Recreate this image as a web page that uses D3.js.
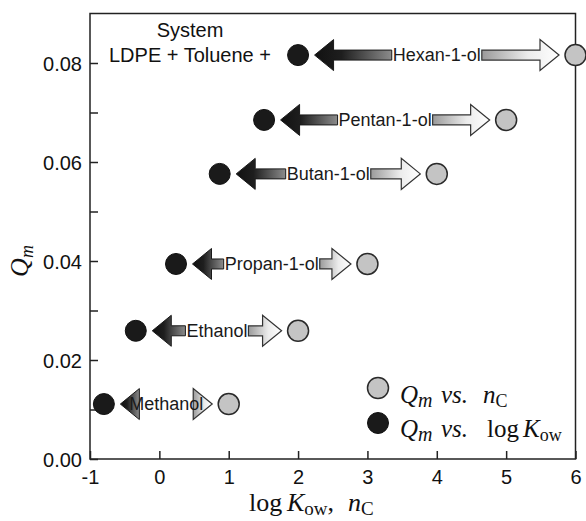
<!DOCTYPE html>
<html><head><meta charset="utf-8">
<script src="https://cdn.jsdelivr.net/npm/d3@7"></script>
<style>body{margin:0;background:#fff}</style>
</head><body><svg id="c" width="586" height="521"></svg>
<script>
const alcohols = ["Methanol","Ethanol","Propan-1-ol","Butan-1-ol","Pentan-1-ol","Hexan-1-ol"];
const nC = [1,2,3,4,5,6];
const logKow = [-0.8,-0.34,0.24,0.87,1.51,2.0];
const Qm = [0.0111,0.0259,0.0394,0.0576,0.0685,0.0816];
const xTicks = [-1,0,1,2,3,4,5,6];
const yTicks = [0,0.01,0.02,0.03,0.04,0.05,0.06,0.07,0.08];
const yLabeled = [0,0.02,0.04,0.06,0.08];
const titleLines = ["System","LDPE + Toluene +"];

const svg = d3.select("#c");
const L=90,R=575.5,T=13.5,B=459;
const x = d3.scaleLinear().domain([-1,6]).range([L,R]);
const y = d3.scaleLinear().domain([0,0.09]).range([B,T]);
const SANS = "'Liberation Sans', Arial, Helvetica, sans-serif";
const SERIF = "'Liberation Serif', 'Times New Roman', serif";
const ink = "#222";

const defs = svg.append("defs");
const gl = defs.append("linearGradient").attr("id","gL").attr("x1",0).attr("x2",1).attr("y1",0).attr("y2",0);
gl.append("stop").attr("offset",0).attr("stop-color","#111");
gl.append("stop").attr("offset",0.35).attr("stop-color","#1e1e1e");
gl.append("stop").attr("offset",1).attr("stop-color","#8c8c8c");
const gr = defs.append("linearGradient").attr("id","gR").attr("x1",0).attr("x2",1).attr("y1",0).attr("y2",0);
gr.append("stop").attr("offset",0).attr("stop-color","#9a9a9a");
gr.append("stop").attr("offset",0.6).attr("stop-color","#ececec");
gr.append("stop").attr("offset",1).attr("stop-color","#ffffff");

// axes
const yAxis = d3.axisLeft(y).tickValues(yTicks).tickSize(-8).tickPadding(8)
  .tickFormat(d => yLabeled.some(v=>Math.abs(v-d)<1e-9) ? d.toFixed(2) : "");
const gy = svg.append("g").attr("transform",`translate(${L},0)`).call(yAxis);
const xAxis = d3.axisBottom(x).tickValues(xTicks).tickSize(-8).tickPadding(11).tickFormat(d=>String(d));
const gx = svg.append("g").attr("transform",`translate(0,${B})`).call(xAxis);
[gx,gy].forEach(g=>{
  g.select(".domain").remove();
  g.selectAll("line").attr("stroke",ink).attr("stroke-width",1.5);
  g.selectAll("text").attr("font-family",SANS).attr("font-size",20).attr("fill","#111");
});
gy.selectAll("text").attr("dy","0.36em");
svg.append("rect").attr("x",L).attr("y",T).attr("width",R-L).attr("height",B-T)
  .attr("fill","none").attr("stroke",ink).attr("stroke-width",1.5);

// title
svg.append("text").attr("x",190).attr("y",37).attr("text-anchor","middle")
  .attr("font-family",SANS).attr("font-size",20).attr("fill","#111").text(titleLines[0]);
svg.append("text").attr("x",190).attr("y",62).attr("text-anchor","middle")
  .attr("font-family",SANS).attr("font-size",20).attr("fill","#111").text(titleLines[1]);

// arrows
const r=10.5, gap=6, HL=19, HH=15.5, SH=5;
alcohols.forEach((name,i)=>{
  const xb=x(logKow[i]), xg=x(nC[i]), yy=y(Qm[i]);
  const g = svg.append("g");
  const gA = g.append("g");
  const t = g.append("text").attr("font-family",SANS).attr("font-size",18).attr("fill","#1a1a1a")
    .attr("text-anchor","middle").attr("dy","0.35em").text(name);
  const tipL = xb+r+gap, tipR = xg-r-gap;
  const cx = (tipL+tipR)/2;
  t.attr("x",cx).attr("y",yy);
  const w = t.node().getComputedTextLength();
  const ts = cx-w/2-1, te = cx+w/2+1;
  const baseL = tipL+HL, baseR = tipR-HL;
  let pL = `M${tipL},${yy} L${baseL},${yy-HH} `;
  if (ts>baseL) pL += `L${baseL},${yy-SH} L${ts},${yy-SH} L${ts},${yy+SH} L${baseL},${yy+SH} `;
  pL += `L${baseL},${yy+HH} Z`;
  let pR = `M${tipR},${yy} L${baseR},${yy-HH} `;
  if (te<baseR) pR += `L${baseR},${yy-SH} L${te},${yy-SH} L${te},${yy+SH} L${baseR},${yy+SH} `;
  pR += `L${baseR},${yy+HH} Z`;
  gA.append("path").attr("d",pL).attr("fill","url(#gL)").attr("stroke","#1a1a1a").attr("stroke-width",1).attr("stroke-linejoin","miter");
  gA.append("path").attr("d",pR).attr("fill","url(#gR)").attr("stroke","#333").attr("stroke-width",1.2).attr("stroke-linejoin","miter");
});

// points
svg.append("g").selectAll("circle").data(nC).join("circle")
  .attr("cx",(d)=>x(d)).attr("cy",(d,i)=>y(Qm[i])).attr("r",r)
  .attr("fill","#c4c4c4").attr("stroke","#2a2a2a").attr("stroke-width",1.5);
svg.append("g").selectAll("circle").data(logKow).join("circle")
  .attr("cx",(d)=>x(d)).attr("cy",(d,i)=>y(Qm[i])).attr("r",r)
  .attr("fill","#1a1a1a").attr("stroke","#111").attr("stroke-width",1);

// legend
svg.append("circle").attr("cx",378).attr("cy",388).attr("r",r).attr("fill","#c4c4c4").attr("stroke","#2a2a2a").attr("stroke-width",1.5);
svg.append("circle").attr("cx",378).attr("cy",423).attr("r",r).attr("fill","#1a1a1a").attr("stroke","#111");
const l1 = svg.append("text").attr("x",400).attr("y",403).attr("font-family",SERIF).attr("font-size",25).attr("fill","#111");
l1.append("tspan").attr("font-style","italic").text("Q");
l1.append("tspan").attr("font-style","italic").attr("font-size",20).attr("dy",4).text("m");
l1.append("tspan").attr("font-style","italic").attr("x",441).attr("dy",-4).text("vs.");
l1.append("tspan").attr("font-style","italic").attr("x",483).text("n");
l1.append("tspan").attr("font-size",18).attr("dy",4).text("C");
const l2 = svg.append("text").attr("x",400).attr("y",437).attr("font-family",SERIF).attr("font-size",25).attr("fill","#111");
l2.append("tspan").attr("font-style","italic").text("Q");
l2.append("tspan").attr("font-style","italic").attr("font-size",20).attr("dy",4).text("m");
l2.append("tspan").attr("font-style","italic").attr("x",441).attr("dy",-4).text("vs.");
l2.append("tspan").attr("x",487).text("log");
l2.append("tspan").attr("font-style","italic").attr("x",523).text("K");
l2.append("tspan").attr("font-size",18).attr("dy",4).text("ow");

// x title
const xt = svg.append("text").attr("x",249).attr("y",511).attr("font-family",SERIF).attr("font-size",26).attr("fill","#111");
xt.append("tspan").text("log");
xt.append("tspan").attr("x",287).attr("font-style","italic").text("K");
xt.append("tspan").attr("font-size",19).attr("dy",4).text("ow");
xt.append("tspan").attr("dy",-4).text(",");
xt.append("tspan").attr("x",348).attr("font-style","italic").text("n");
xt.append("tspan").attr("font-size",19).attr("dy",4).text("C");

// y title
const yt = svg.append("text").attr("transform","translate(28,261) rotate(-90)").attr("text-anchor","middle")
  .attr("font-family",SERIF).attr("font-size",26).attr("fill","#111");
yt.append("tspan").attr("font-style","italic").text("Q");
yt.append("tspan").attr("font-style","italic").attr("font-size",18).attr("dy",5).text("m");
</script></body></html>
